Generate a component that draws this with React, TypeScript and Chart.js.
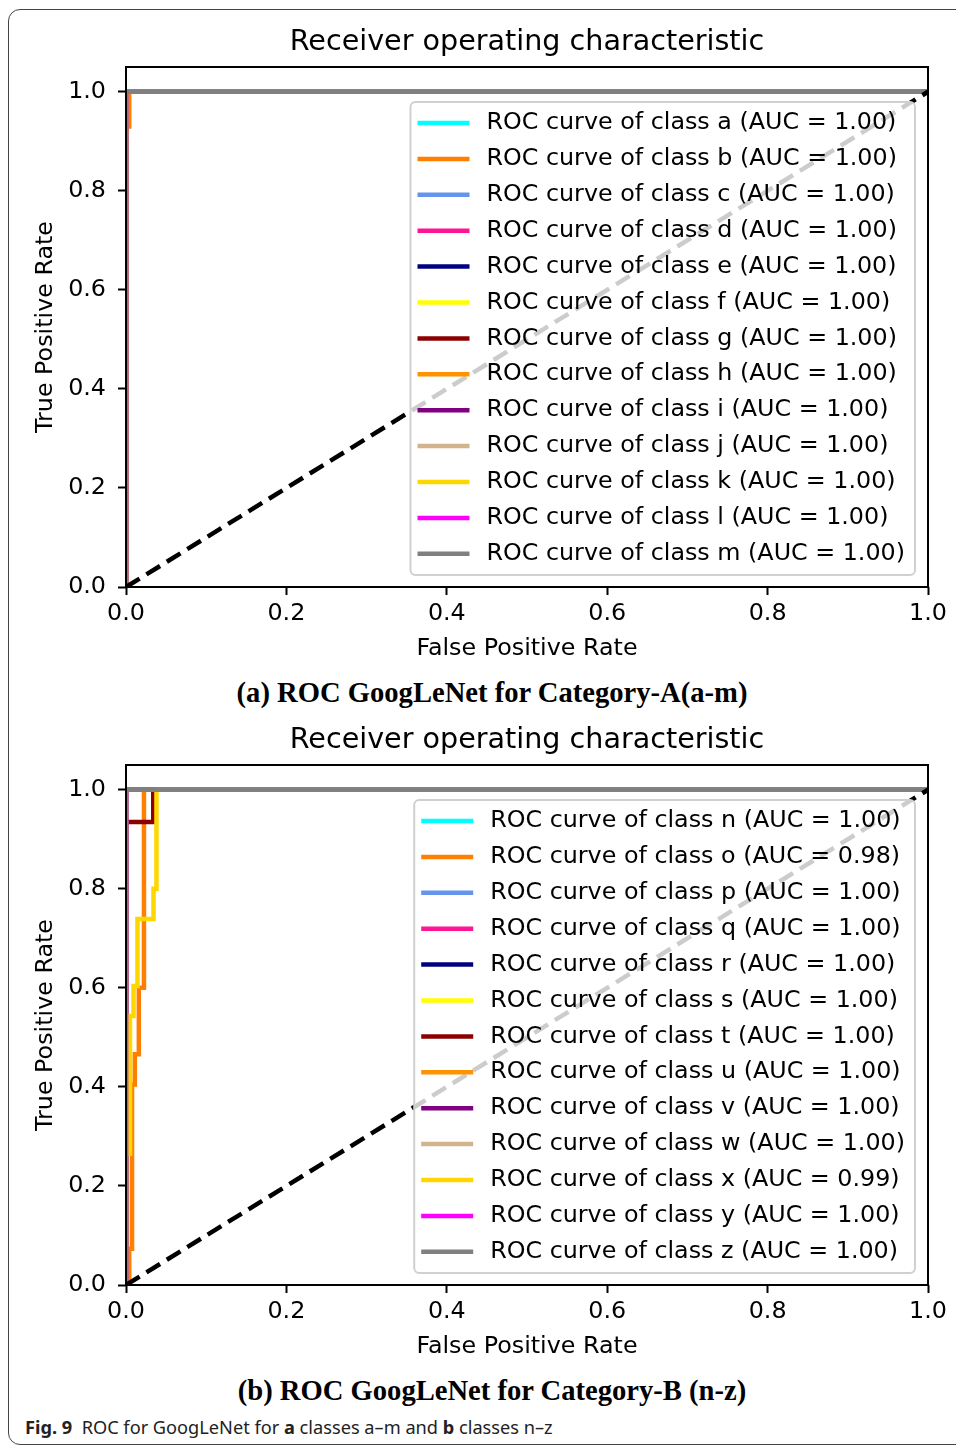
import React, { useEffect, useRef } from 'react';
import { Chart, registerables } from 'chart.js';

Chart.register(...registerables);

// ---------- data ----------
const CLASSES_A = ['a', 'b', 'c', 'd', 'e', 'f', 'g', 'h', 'i', 'j', 'k', 'l', 'm'];
const AUC_A = [1.0, 1.0, 1.0, 1.0, 1.0, 1.0, 1.0, 1.0, 1.0, 1.0, 1.0, 1.0, 1.0];
const CLASSES_B = ['n', 'o', 'p', 'q', 'r', 's', 't', 'u', 'v', 'w', 'x', 'y', 'z'];
const AUC_B = [1.0, 0.98, 1.0, 1.0, 1.0, 1.0, 1.0, 1.0, 1.0, 1.0, 0.99, 1.0, 1.0];

const COLORS = [
  '#00FFFF', // aqua
  '#FF7F00', // darkorange
  '#6495ED', // cornflowerblue
  '#FF1493', // deeppink
  '#000080', // navy
  '#FFFF00', // yellow
  '#8B0000', // darkred
  '#FF9200', // orange
  '#800080', // purple
  '#D2B48C', // tan
  '#FFD700', // gold
  '#FF00FF', // magenta
  '#808080', // gray
];

// perfect ROC curve
const PERFECT_FPR = [0, 0, 1];
const PERFECT_TPR = [0, 1, 1];

// class b (chart A)
const B_FPR = [0, 0, 0.004, 0.004, 1];
const B_TPR = [0, 0.93, 0.93, 1, 1];

// class o (chart B)
const O_FPR = [0, 0.004, 0.004, 0.0075, 0.0075, 0.011, 0.011, 0.016, 0.016, 0.0224, 0.0224, 1];
const O_TPR = [0, 0, 0.073, 0.073, 0.405, 0.405, 0.466, 0.466, 0.6, 0.6, 1, 1];

// class t (chart B)
const T_FPR = [0, 0, 0.034, 0.034, 1];
const T_TPR = [0, 0.935, 0.935, 1, 1];

// class x (chart B)
const X_FPR = [0, 0, 0.005, 0.005, 0.0094, 0.0094, 0.0143, 0.0143, 0.0343, 0.0343, 0.038, 0.038, 1];
const X_TPR = [0, 0.265, 0.265, 0.543, 0.543, 0.604, 0.604, 0.739, 0.739, 0.8, 0.8, 1, 1];

const DIAG_FPR = [0, 1];
const DIAG_TPR = [0, 1];

const X_TICKS = [0, 0.2, 0.4, 0.6, 0.8, 1.0];
const Y_TICKS = [0, 0.2, 0.4, 0.6, 0.8, 1.0];

const CURVES_A: [number[], number[]][] = CLASSES_A.map((c) =>
  c === 'b' ? [B_FPR, B_TPR] : [PERFECT_FPR, PERFECT_TPR]
);
const CURVES_B: [number[], number[]][] = CLASSES_B.map((c) => {
  if (c === 'o') return [O_FPR, O_TPR];
  if (c === 't') return [T_FPR, T_TPR];
  if (c === 'x') return [X_FPR, X_TPR];
  return [PERFECT_FPR, PERFECT_TPR];
});

// ---------- styling ----------
const FONT = '"DejaVu Sans", sans-serif';
const FS = 23.8;
const TITLE_FS = 28.6;
const LW = 4.5;

const toPts = (xs: number[], ys: number[]) => xs.map((x, i) => ({ x, y: ys[i] }));

const spinePlugin = {
  id: 'spines',
  afterDatasetsDraw(chart: any) {
    const { ctx, chartArea: a } = chart;
    ctx.save();
    ctx.strokeStyle = '#000';
    ctx.lineWidth = 2;
    ctx.strokeRect(a.left, a.top, a.right - a.left, a.bottom - a.top);
    ctx.restore();
  },
};

const legendPlugin = {
  id: 'rocLegend',
  afterDraw(chart: any) {
    const { ctx, chartArea: a } = chart;
    const items = chart.data.datasets.filter((d: any) => d.label);
    ctx.save();
    ctx.font = `${FS}px ${FONT}`;
    const maxW = Math.max(...items.map((d: any) => ctx.measureText(d.label).width));
    const rowH = 35.9;
    const w = maxW + 86;
    const h = items.length * rowH + 6.3;
    const right = a.right - 13;
    const bottom = a.bottom - 12;
    const left = right - w;
    const top = bottom - h;
    ctx.beginPath();
    ctx.roundRect(left, top, w, h, 5);
    ctx.fillStyle = 'rgba(255,255,255,0.8)';
    ctx.fill();
    ctx.strokeStyle = '#d0d0d0';
    ctx.lineWidth = 2;
    ctx.stroke();
    items.forEach((d: any, i: number) => {
      const y = top + 21 + i * rowH;
      ctx.beginPath();
      ctx.strokeStyle = d.borderColor;
      ctx.lineWidth = LW;
      ctx.moveTo(left + 7, y);
      ctx.lineTo(left + 59, y);
      ctx.stroke();
      ctx.fillStyle = '#000';
      ctx.textBaseline = 'middle';
      ctx.textAlign = 'left';
      ctx.fillText(d.label, left + 76, y);
    });
    ctx.restore();
  },
};

function makeConfig(classes: string[], aucs: number[], curves: [number[], number[]][]): any {
  const n = classes.length;
  const datasets: any[] = classes.map((c, i) => ({
    label: `ROC curve of class ${c} (AUC = ${aucs[i].toFixed(2)})`,
    data: toPts(curves[i][0], curves[i][1]),
    borderColor: COLORS[i],
    borderWidth: LW,
    showLine: true,
    pointRadius: 0,
    fill: false,
    tension: 0,
    clip: 0,
    order: 100 - i,
  }));
  datasets.push({
    label: '',
    data: toPts(DIAG_FPR, DIAG_TPR),
    borderColor: '#000',
    borderWidth: LW,
    borderDash: [16, 8],
    showLine: true,
    pointRadius: 0,
    fill: false,
    clip: 0,
    order: 100 - n - 1,
  });
  return {
    type: 'scatter',
    data: { datasets },
    options: {
      responsive: false,
      animation: false,
      devicePixelRatio: 1,
      layout: { padding: { left: 0, right: 30, top: 0, bottom: 0 } },
      plugins: {
        legend: { display: false },
        tooltip: { enabled: false },
        title: {
          display: true,
          fullSize: false,
          text: 'Receiver operating characteristic',
          color: '#000',
          font: { family: FONT, size: TITLE_FS, weight: 'normal' },
          padding: { top: 7.84, bottom: 6.84 },
        },
      },
      scales: {
        x: {
          type: 'linear',
          min: 0,
          max: 1,
          afterBuildTicks: (s: any) => {
            s.ticks = X_TICKS.map((v) => ({ value: v }));
          },
          afterFit: (s: any) => {
            s.height = 81;
          },
          ticks: {
            callback: (v: any) => Number(v).toFixed(1),
            color: '#000',
            font: { family: FONT, size: FS },
            padding: 5,
            maxRotation: 0,
            autoSkip: false,
          },
          grid: {
            display: true,
            drawOnChartArea: false,
            drawTicks: true,
            tickLength: 8,
            tickWidth: 2,
            tickColor: '#000',
          },
          border: { display: false },
          title: {
            display: true,
            text: 'False Positive Rate',
            color: '#000',
            font: { family: FONT, size: FS },
            padding: { top: 0, bottom: 4.7 },
          },
        },
        y: {
          type: 'linear',
          min: 0,
          max: 1.05,
          afterBuildTicks: (s: any) => {
            s.ticks = Y_TICKS.map((v) => ({ value: v }));
          },
          afterFit: (s: any) => {
            s.width = 118;
          },
          ticks: {
            callback: (v: any) => Number(v).toFixed(1),
            color: '#000',
            font: { family: FONT, size: FS },
            padding: 12,
            autoSkip: false,
          },
          grid: {
            display: true,
            drawOnChartArea: false,
            drawTicks: true,
            tickLength: 8,
            tickWidth: 2,
            tickColor: '#000',
          },
          border: { display: false },
          title: {
            display: true,
            text: 'True Positive Rate',
            color: '#000',
            font: { family: FONT, size: FS },
            padding: { top: 23.7, bottom: 0 },
          },
        },
      },
    },
    plugins: [spinePlugin, legendPlugin],
  };
}

function RocChart({ classes, aucs, curves, top }: { classes: string[]; aucs: number[]; curves: [number[], number[]][]; top: number }) {
  const ref = useRef<HTMLCanvasElement | null>(null);
  useEffect(() => {
    if (!ref.current) return;
    const chart = new Chart(ref.current, makeConfig(classes, aucs, curves));
    return () => chart.destroy();
  }, [classes, aucs, curves]);
  return (
    <canvas
      ref={ref}
      width={950}
      height={650}
      style={{ position: 'absolute', left: 8, top, width: 950, height: 650 }}
    />
  );
}

const captionStyle: React.CSSProperties = {
  position: 'absolute',
  left: 492,
  transform: 'translateX(-50%)',
  whiteSpace: 'nowrap',
  fontFamily: '"Liberation Serif", "Times New Roman", serif',
  fontWeight: 'bold',
  fontSize: 28.6,
  lineHeight: '28.6px',
  color: '#000',
};

export default function App() {
  return (
    <div
      style={{
        position: 'fixed',
        left: 0,
        top: 0,
        width: 956,
        height: 1447,
        overflow: 'hidden',
        background: '#fff',
      }}
    >
      <div
        style={{
          position: 'absolute',
          left: 8,
          top: 9,
          width: 1100,
          height: 1434,
          border: '1.5px solid #444',
          borderRadius: 12,
        }}
      />
      <RocChart classes={CLASSES_A} aucs={AUC_A} curves={CURVES_A} top={18} />
      <div style={{ ...captionStyle, top: 679 }}>(a) ROC GoogLeNet for Category-A(a-m)</div>
      <RocChart classes={CLASSES_B} aucs={AUC_B} curves={CURVES_B} top={716} />
      <div style={{ ...captionStyle, top: 1377 }}>(b) ROC GoogLeNet for Category-B (n-z)</div>
      <div
        style={{
          position: 'absolute',
          left: 25,
          top: 1415,
          whiteSpace: 'nowrap',
          fontFamily: '"Noto Sans", sans-serif',
          fontSize: 18.2,
          lineHeight: '24px',
          color: '#222',
        }}
      >
        <b>Fig. 9</b>&nbsp;&nbsp;ROC for GoogLeNet for <b>a</b> classes a–m and <b>b</b> classes n–z
      </div>
    </div>
  );
}
